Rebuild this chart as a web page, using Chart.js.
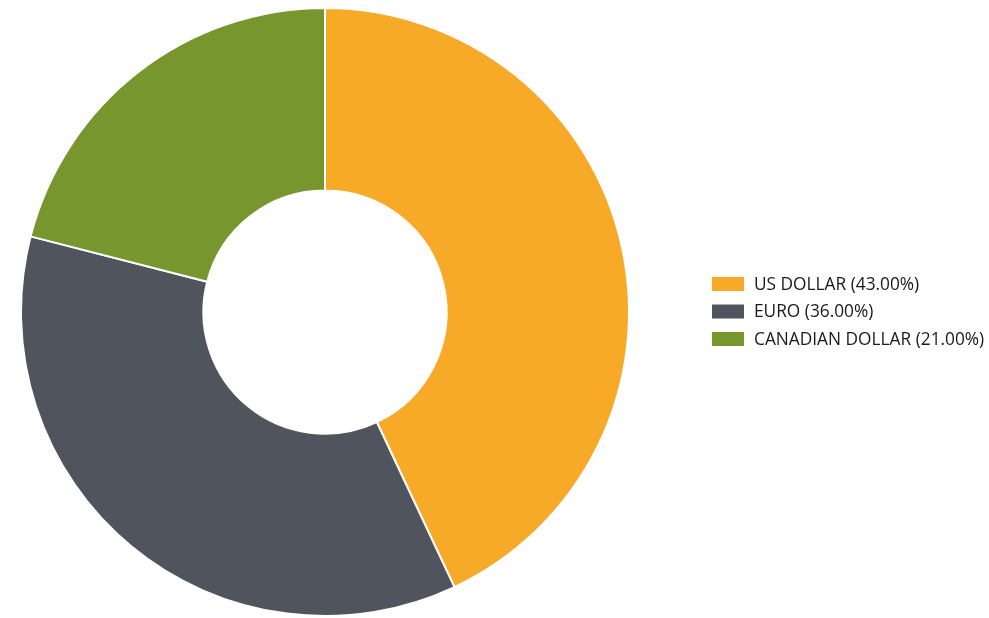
<!DOCTYPE html>
<html>
<head>
<meta charset="utf-8">
<script src="https://cdn.jsdelivr.net/npm/chart.js@4/dist/chart.umd.min.js"></script>
<style>
html,body{margin:0;padding:0;background:#fff;}
#wrap{width:989px;height:618px;position:relative;}
</style>
</head>
<body>
<div id="wrap"><canvas id="c" width="989" height="618"></canvas></div>
<script>
const categories = ["US DOLLAR", "EURO", "CANADIAN DOLLAR"];
const shares = [43.00, 36.00, 21.00];
const colors = ["#F7A928", "#50545D", "#78962E"];

const legendPlugin = {
  id: 'customLegend',
  afterDraw(chart) {
    const ctx = chart.ctx;
    const ds = chart.data.datasets[0];
    ctx.save();
    ctx.font = '17.3px "Open Sans", sans-serif';
    ctx.textBaseline = 'middle';
    chart.data.labels.forEach((lab, i) => {
      const y = 284 + i * 27.5;
      ctx.fillStyle = ds.backgroundColor[i];
      ctx.fillRect(712, y - 7, 32, 14);
      ctx.fillStyle = '#1a1a1a';
      ctx.fillText(lab + ' (' + ds.data[i].toFixed(2) + '%)', 754, y + 1);
    });
    ctx.restore();
  }
};

new Chart(document.getElementById('c'), {
  type: 'doughnut',
  data: {
    labels: categories,
    datasets: [{
      data: shares,
      backgroundColor: colors,
      borderColor: '#ffffff',
      borderWidth: 2
    }]
  },
  options: {
    responsive: false,
    animation: false,
    cutout: '40%',
    layout: { padding: { left: 20, right: 359, top: 7, bottom: 1 } },
    plugins: { legend: { display: false }, tooltip: { enabled: false } }
  },
  plugins: [legendPlugin]
});
</script>
</body>
</html>
